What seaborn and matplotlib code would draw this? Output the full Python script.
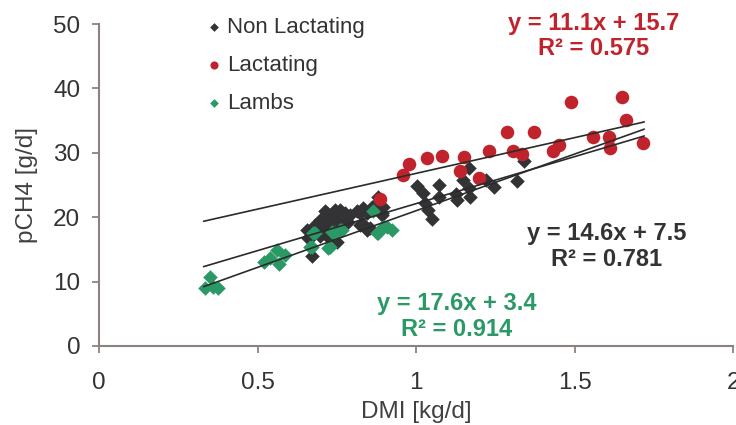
import numpy as np
import pandas as pd
import matplotlib
matplotlib.use('Agg')
import matplotlib.pyplot as plt
import seaborn as sns

# Non lactating ewes (DMI kg/d, pCH4 g/d)
nonlact_x = [1.167, 1.342, 1.149, 1.004, 1.074, 1.023, 1.074, 1.126, 1.128,
             1.168, 1.170, 1.221, 1.247, 1.318, 1.028, 1.039, 1.049,
             0.881, 0.897, 0.892, 0.860, 0.845, 0.823, 0.829, 0.855, 0.792,
             0.760, 0.750, 0.718, 0.708, 0.729, 0.687, 0.655, 0.666, 0.718,
             0.750, 0.776, 0.671, 0.713, 0.744, 0.776, 0.697, 0.729, 0.755,
             0.786, 0.681, 0.713, 0.660, 0.697, 0.734, 0.813, 0.834, 0.823,
             0.845, 0.881, 0.892]
nonlact_y = [27.6, 28.7, 25.7, 24.8, 25.0, 23.7, 23.2, 23.6, 22.7,
             24.6, 23.1, 25.8, 24.7, 25.6, 22.2, 21.1, 19.7,
             23.1, 21.6, 20.3, 21.6, 20.6, 20.6, 19.1, 18.3, 20.3,
             21.1, 19.6, 20.6, 19.1, 18.5, 18.5, 18.0, 16.7, 17.0,
             16.2, 19.3, 13.9, 20.9, 21.1, 20.6, 19.6, 19.8, 19.6,
             19.3, 18.8, 18.3, 16.7, 17.0, 16.5, 20.9, 21.4, 18.8,
             18.0, 22.4, 20.6]

# Lactating ewes
lact_x = [1.649, 1.488, 1.662, 1.286, 1.373, 1.559, 1.610, 1.717, 1.612,
          1.452, 1.433, 1.231, 1.305, 1.333, 1.151, 1.081, 1.034, 0.977,
          0.958, 1.139, 1.198, 0.887]
lact_y = [38.6, 37.9, 35.1, 33.3, 33.2, 32.5, 32.5, 31.5, 30.7,
          31.2, 30.3, 30.2, 30.3, 29.8, 29.3, 29.5, 29.2, 28.2,
          26.6, 27.1, 26.1, 22.8]

# Lambs
lamb_x = [0.350, 0.334, 0.361, 0.376, 0.562, 0.587, 0.539, 0.520, 0.569,
          0.666, 0.681, 0.729, 0.744, 0.766, 0.881, 0.865, 0.908, 0.923,
          0.676, 0.734, 0.760, 0.671, 0.723, 0.876, 0.897]
lamb_y = [10.7, 9.0, 9.2, 9.0, 14.9, 14.1, 13.6, 13.1, 12.8,
          15.4, 17.5, 15.4, 17.5, 18.0, 17.5, 20.9, 18.5, 18.0,
          17.5, 17.7, 18.0, 15.4, 15.2, 17.5, 18.5]

# Trend lines: slope, intercept, R2
fit_lact = (11.1, 15.7, 0.575)
fit_nonlact = (14.6, 7.5, 0.781)
fit_lamb = (17.6, 3.4, 0.914)
fit_xrange = [0.33, 1.72]

RED = '#C1232D'
DARK = '#333336'
GREEN = '#2A9966'
AXIS = '#8C817E'

sns.set_style('white')
plt.rcParams['font.family'] = ['Liberation Sans', 'DejaVu Sans']

df_nonlact = pd.DataFrame({'DMI': nonlact_x, 'CH4': nonlact_y})
df_lact = pd.DataFrame({'DMI': lact_x, 'CH4': lact_y})
df_lamb = pd.DataFrame({'DMI': lamb_x, 'CH4': lamb_y})

fig = plt.figure(figsize=(7.36, 4.25), dpi=100)
ax = fig.add_axes([0.1345, 0.186, 0.8615, 0.7575])

# Scatter groups
sns.scatterplot(data=df_nonlact, x='DMI', y='CH4', color=DARK, marker='D',
                s=55, linewidth=0, label='Non Lactating', ax=ax, zorder=2)
sns.scatterplot(data=df_lact, x='DMI', y='CH4', color=RED, marker='o',
                s=95, linewidth=0, label='Lactating', ax=ax, zorder=2)
sns.scatterplot(data=df_lamb, x='DMI', y='CH4', color=GREEN, marker='D',
                s=55, linewidth=0, label='Lambs', ax=ax, zorder=2)

xs = np.array(fit_xrange)
for slope, icpt, r2 in (fit_lact, fit_nonlact, fit_lamb):
    ax.plot(xs, slope * xs + icpt, color='#2B2B2B', lw=1.2, zorder=3)

ax.set_xlim(0, 2)
ax.set_ylim(0, 50)
ax.set_xticks([0, 0.5, 1, 1.5, 2])
ax.set_xticklabels(['0', '0.5', '1', '1.5', '2'])
ax.set_yticks([0, 10, 20, 30, 40, 50])
ax.set_xlabel('DMI [kg/d]', fontsize=17.5, color='#404040', labelpad=5)
ax.set_ylabel('pCH4 [g/d]', fontsize=17.5, color='#404040', labelpad=11)
ax.tick_params(axis='both', labelsize=17.5, labelcolor='#333333', color=AXIS,
               length=5, width=1.3, direction='out', bottom=True, left=True)
ax.tick_params(axis='x', pad=14)
ax.tick_params(axis='y', pad=8.5)
for side in ('top', 'right'):
    ax.spines[side].set_visible(False)
for side in ('left', 'bottom'):
    ax.spines[side].set_color(AXIS)
    ax.spines[side].set_linewidth(1.5)

leg = ax.legend(loc='upper left', bbox_to_anchor=(0.132, 1.083), frameon=False,
                fontsize=16, markerscale=0.6, labelspacing=0.75,
                handletextpad=0.1, handlelength=1.0)
for t in leg.get_texts():
    t.set_color('#333333')

# Trend line equations
ax.text(1.56, 51.9, 'y = 11.1x + 15.7\nR² = 0.575', color=RED, fontsize=17,
        fontweight='bold', ha='center', va='top', linespacing=1.15)
ax.text(1.6, 19.25, 'y = 14.6x + 7.5\nR² = 0.781', color=DARK, fontsize=17,
        fontweight='bold', ha='center', va='top', linespacing=1.15)
ax.text(1.129, 8.4, 'y = 17.6x + 3.4\nR² = 0.914', color=GREEN, fontsize=17,
        fontweight='bold', ha='center', va='top', linespacing=1.15)

fig.savefig('out.png', dpi=100)
